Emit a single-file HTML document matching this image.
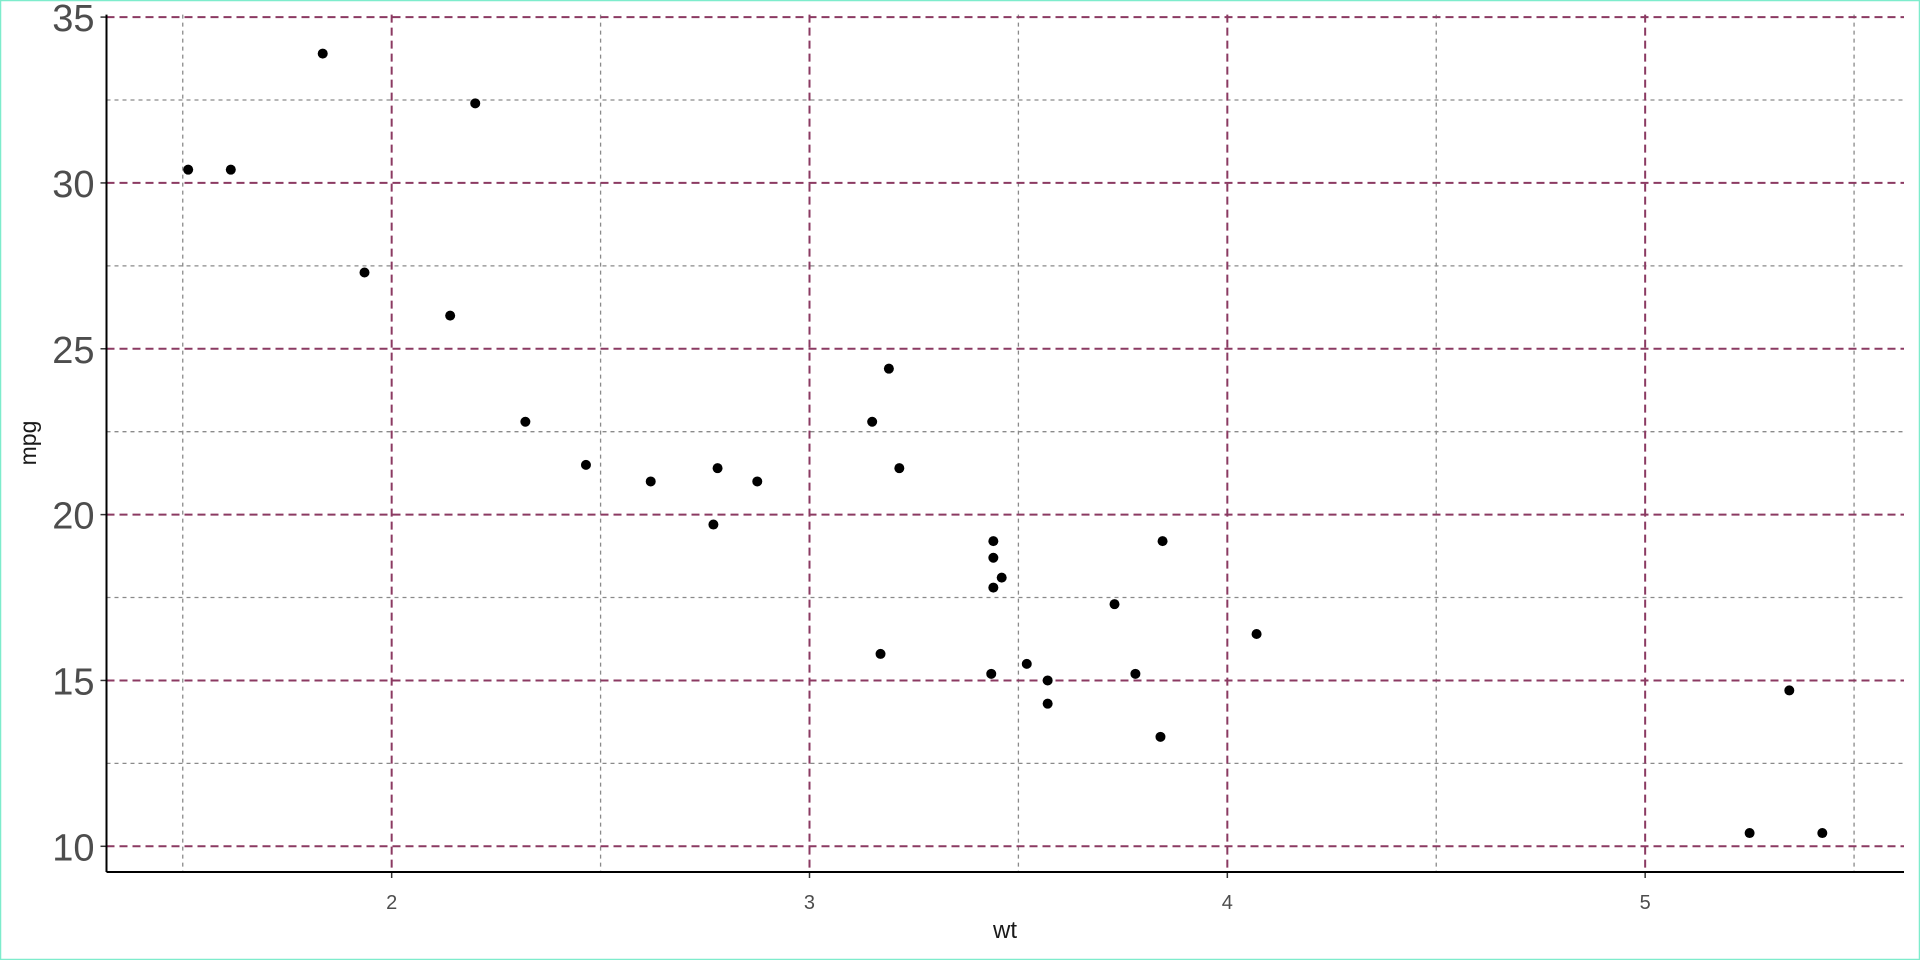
<!DOCTYPE html>
<html><head><meta charset="utf-8">
<style>
html,body{margin:0;padding:0;background:#fff;}
svg{display:block;font-family:"Liberation Sans",sans-serif;}
</style></head>
<body>
<svg id="chart" width="1920" height="960">
<rect x="0.5" y="0.5" width="1919" height="959" fill="#fff" stroke="#7eeccc" stroke-width="1.5"/>
<g id="grid"></g>
<g id="axes"></g>
<g id="points"></g>
<text x="1005" y="938" font-size="24" fill="#1a1a1a" text-anchor="middle">wt</text>
<text transform="translate(36,443) rotate(-90)" font-size="23" fill="#1a1a1a" text-anchor="middle">mpg</text>
</svg>
<script>
const wtValues=[2.620,2.875,2.320,3.215,3.440,3.460,3.570,3.190,3.150,3.440,3.440,4.070,3.730,3.780,5.250,5.424,5.345,2.200,1.615,1.835,2.465,3.520,3.435,3.840,3.845,1.935,2.140,1.513,3.170,2.770,3.570,2.780];
const mpgValues=[21.0,21.0,22.8,21.4,18.7,18.1,14.3,24.4,22.8,19.2,17.8,16.4,17.3,15.2,10.4,10.4,14.7,32.4,30.4,33.9,21.5,15.5,15.2,13.3,19.2,27.3,26.0,30.4,15.8,19.7,15.0,21.4];
const xTicks=[2,3,4,5];
const xMinor=[1.5,2.5,3.5,4.5,5.5];
const yTicks=[10,15,20,25,30,35];
const yMinor=[12.5,17.5,22.5,27.5,32.5];
const NS="http://www.w3.org/2000/svg";
const L=106.5,R=1904,T=14.6,B=872;
const xMin=1.3175,xMax=5.6195,yMin=9.225,yMax=35.075;
const xs=v=>L+(v-xMin)/(xMax-xMin)*(R-L);
const ys=v=>B-(v-yMin)/(yMax-yMin)*(B-T);
const grid=document.getElementById('grid'),axes=document.getElementById('axes'),pts=document.getElementById('points');
function line(p,x1,y1,x2,y2,st,w,da){const l=document.createElementNS(NS,'line');l.setAttribute('x1',x1);l.setAttribute('y1',y1);l.setAttribute('x2',x2);l.setAttribute('y2',y2);l.setAttribute('stroke',st);l.setAttribute('stroke-width',w);if(da)l.setAttribute('stroke-dasharray',da);p.appendChild(l);return l;}
function text(p,x,y,s,size,anchor){const t=document.createElementNS(NS,'text');t.setAttribute('x',x);t.setAttribute('y',y);t.setAttribute('font-size',size);t.setAttribute('fill','#4d4d4d');t.setAttribute('text-anchor',anchor);t.textContent=s;p.appendChild(t);return t;}
xMinor.forEach(v=>{const l=line(grid,xs(v),T,xs(v),B,'#8a8a8a',1.3,'4,4');

});
yMinor.forEach(v=>{const l=line(grid,L,ys(v),R,ys(v),'#8a8a8a',1.3,'4,4');

});
xTicks.forEach(v=>{const l=line(grid,xs(v),T,xs(v),B,'#8b3a62',2,'8,5');


const tk=line(axes,xs(v),B,xs(v),B+6,'#333',1.5);


const t=text(axes,xs(v),909,String(v),20,'middle');

});
yTicks.forEach(v=>{const l=line(grid,L,ys(v),R,ys(v),'#8b3a62',2,'8,5');


const tk=line(axes,L-6,ys(v),L,ys(v),'#333',1.5);


const t=text(axes,L-12,ys(v)+14,String(v),38,'end');

});
const ax=line(axes,L,T,L,B,'#000',2);


const bx=line(axes,L,B,R,B,'#000',2);


wtValues.forEach((w,i)=>{const c=document.createElementNS(NS,'circle');c.setAttribute('cx',xs(w));c.setAttribute('cy',ys(mpgValues[i]));c.setAttribute('r',5);c.setAttribute('fill','#000');


pts.appendChild(c);});
</script>
</body></html>
